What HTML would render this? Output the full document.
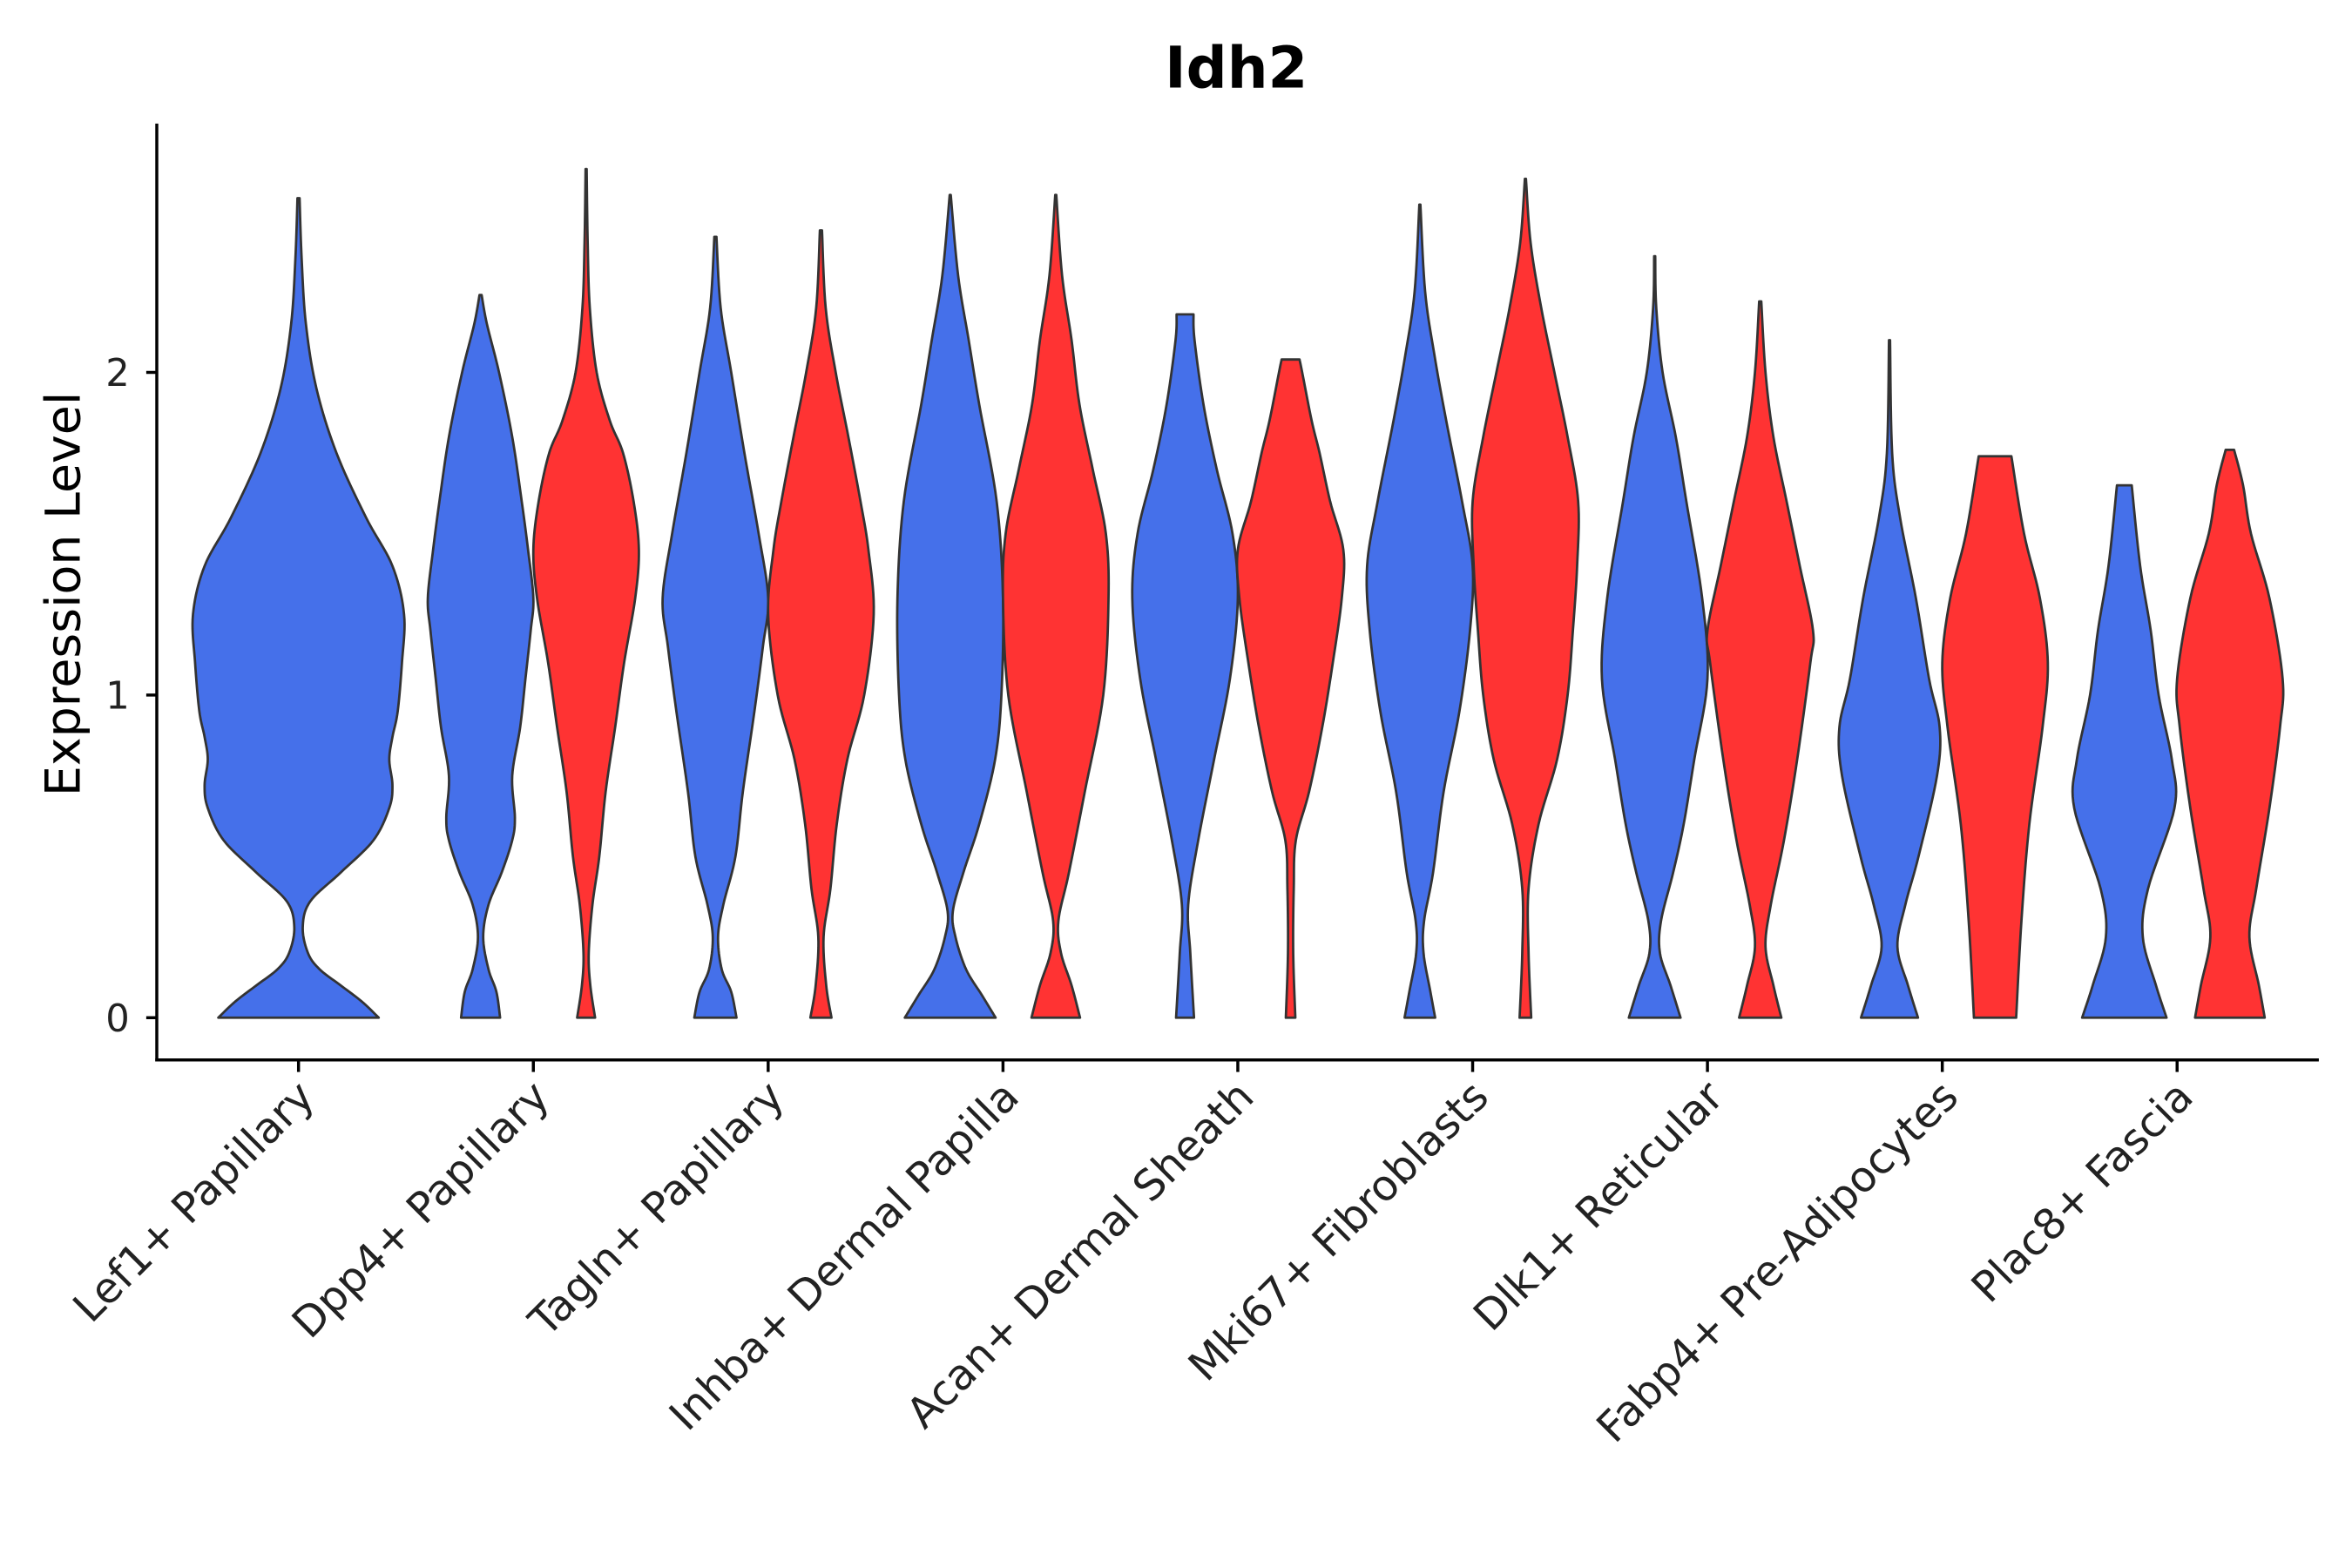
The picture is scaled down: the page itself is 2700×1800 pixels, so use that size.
<!DOCTYPE html>
<html><head><meta charset="utf-8"><style>
html,body{margin:0;padding:0;background:#fff;}
svg{display:block;font-family:"DejaVu Sans","Liberation Sans",sans-serif;}
</style></head><body>
<svg id="chart" width="2700" height="1800" viewBox="0 0 1560 1040" xmlns="http://www.w3.org/2000/svg">
<text x="820" y="58" font-size="38" font-weight="bold" text-anchor="middle">Idh2</text>
<text transform="translate(53,394) rotate(-90)" font-size="32" text-anchor="middle">Expression Level</text>
<g id="plot"></g>
</svg>
<script>
const categories = ["Lef1+ Papillary","Dpp4+ Papillary","Tagln+ Papillary","Inhba+ Dermal Papilla","Acan+ Dermal Sheath","Mki67+ Fibroblasts","Dlk1+ Reticular","Fabp4+ Pre-Adipocytes","Plac8+ Fascia"];
const yTicks = [0,1,2];
const yTickLabels = ["0","1","2"];
// each violin: category index, group (0 blue,1 red, -1 unsplit), knots [value, relative density]
const violinCats = [0,1,1,2,2,3,3,4,4,5,5,6,6,7,7,8,8];
const violinGroups = [-1,0,1,0,1,0,1,0,1,0,1,0,1,0,1,0,1];
const violinKnots = [
 [[0,.76],[.05,.6],[.1,.4],[.15,.2],[.2,.09],[.28,.04],[.36,.11],[.45,.4],[.55,.71],[.65,.86],[.72,.89],[.8,.86],[.87,.89],[.95,.94],[1.1,.98],[1.25,1],[1.4,.89],[1.55,.64],[1.75,.36],[1.95,.17],[2.15,.07],[2.35,.03],[2.54,.01]],
 [[0,.37],[.08,.3],[.15,.15],[.25,.05],[.35,.15],[.45,.4],[.55,.6],[.62,.65],[.75,.6],[.9,.75],[1.05,.85],[1.2,.95],[1.3,1],[1.45,.9],[1.6,.78],[1.8,.6],[2.0,.35],[2.15,.12],[2.24,.02]],
 [[0,.17],[.1,.08],[.2,.05],[.35,.12],[.5,.25],[.7,.37],[.9,.55],[1.1,.72],[1.3,.93],[1.45,1],[1.6,.9],[1.75,.7],[1.85,.45],[2.0,.2],[2.2,.07],[2.4,.03],[2.63,.01]],
 [[0,.4],[.08,.3],[.15,.12],[.25,.05],[.35,.15],[.5,.38],[.7,.52],[.95,.74],[1.15,.9],[1.3,1],[1.5,.82],[1.75,.55],[2.0,.3],[2.2,.1],[2.42,.02]],
 [[0,.2],[.1,.1],[.25,.05],[.4,.18],[.6,.3],[.8,.5],[1.0,.82],[1.25,1],[1.45,.9],[1.6,.75],[1.8,.52],[2.0,.28],[2.2,.09],[2.44,.02]],
 [[0,.86],[.07,.6],[.15,.3],[.25,.1],[.33,.05],[.45,.25],[.6,.55],[.8,.85],[1.0,.97],[1.3,1],[1.6,.88],[1.9,.55],[2.1,.35],[2.3,.15],[2.55,.01]],
 [[0,.46],[.1,.3],[.2,.1],[.3,.05],[.45,.25],[.7,.55],[1.0,.9],[1.3,1],[1.5,.95],[1.7,.7],[1.9,.45],[2.1,.3],[2.3,.12],[2.55,.01]],
 [[0,.17],[.2,.1],[.35,.06],[.55,.25],[.8,.55],[1.05,.85],[1.3,1],[1.5,.9],[1.7,.6],[1.9,.35],[2.1,.18],[2.18,.16]],
 [[0,.09],[.2,.05],[.4,.06],[.55,.1],[.7,.35],[.9,.6],[1.1,.8],[1.3,.97],[1.45,1],[1.6,.75],[1.75,.55],[1.85,.4],[2.0,.22],[2.04,.17]],
 [[0,.29],[.08,.2],[.2,.07],[.3,.08],[.45,.25],[.7,.45],[.95,.75],[1.2,.95],[1.4,1],[1.6,.8],[1.85,.5],[2.05,.28],[2.25,.1],[2.52,.01]],
 [[0,.11],[.2,.06],[.4,.06],[.6,.25],[.8,.6],[1.0,.8],[1.2,.9],[1.4,.98],[1.6,1],[1.8,.8],[2.0,.55],[2.2,.3],[2.4,.1],[2.6,.01]],
 [[0,.49],[.1,.3],[.2,.1],[.3,.12],[.45,.35],[.6,.55],[.8,.75],[1.05,1],[1.3,.9],[1.6,.6],[1.8,.4],[2.0,.15],[2.2,.03],[2.36,.01]],
 [[0,.4],[.1,.25],[.22,.1],[.35,.2],[.55,.45],[.8,.7],[1.1,.95],[1.2,1],[1.4,.75],[1.6,.5],[1.8,.25],[2.0,.1],[2.22,.02]],
 [[0,.54],[.1,.35],[.22,.15],[.35,.3],[.5,.55],[.75,.9],[.9,.95],[1.05,.75],[1.3,.5],[1.55,.2],[1.75,.05],[2.1,.01]],
 [[0,.4],[.3,.5],[.6,.65],[.9,.9],[1.1,1],[1.3,.85],[1.5,.55],[1.74,.31]],
 [[0,.8],[.1,.6],[.25,.35],[.4,.45],[.65,.95],[.8,.9],[1.0,.65],[1.2,.5],[1.4,.3],[1.65,.14]],
 [[0,.66],[.1,.55],[.25,.37],[.4,.5],[.65,.75],[.9,.95],[1.05,1],[1.3,.75],[1.5,.4],[1.65,.25],[1.76,.08]]
];
const groupColors = ["#4570ea","#ff3333","#4570ea"];

const NS="http://www.w3.org/2000/svg";
const plot=document.getElementById('plot');
const X0=104, X1=1538, Y0=82, YB=703;
function yScale(v){return 675-214*v;}
function xScale(i){return 198+155.75*i;}
function mk(tag,attrs){const e=document.createElementNS(NS,tag);for(const k in attrs)e.setAttribute(k,attrs[k]);return e;}

function sample(knots){
  const pts=[];
  for(let i=0;i<knots.length-1;i++){
    const p0=knots[Math.max(0,i-1)],p1=knots[i],p2=knots[i+1],p3=knots[Math.min(knots.length-1,i+2)];
    for(let s=0;s<10;s++){
      const t=s/10,t2=t*t,t3=t2*t;
      const f=(a,b,c,d)=>0.5*((2*b)+(-a+c)*t+(2*a-5*b+4*c-d)*t2+(-a+3*b-3*c+d)*t3);
      pts.push([f(p0[0],p1[0],p2[0],p3[0]),Math.max(0.005,f(p0[1],p1[1],p2[1],p3[1]))]);
    }
  }
  pts.push(knots[knots.length-1]);
  return pts;
}

violinKnots.forEach((knots,k)=>{
  const g=violinGroups[k];
  const cx = g<0 ? xScale(violinCats[k]) : xScale(violinCats[k]) + (g===0?-35:35);
  const maxHW = g<0 ? 70 : 35;
  const pts=sample(knots);
  const right=pts.map(p=>[cx+p[1]*maxHW,yScale(p[0])]);
  const left=pts.slice().reverse().map(p=>[cx-p[1]*maxHW,yScale(p[0])]);
  const all=right.concat(left);
  const d='M'+all.map(p=>p[0].toFixed(2)+','+p[1].toFixed(2)).join('L')+'Z';
  const path=mk('path',{d:d,fill:groupColors[g<0?2:g],stroke:'#333333','stroke-width':1.6,'stroke-linejoin':'round'});
  
  
  plot.appendChild(path);
});

const yAxis=mk('line',{x1:X0,y1:Y0,x2:X0,y2:YB+1,stroke:'#000','stroke-width':2});


plot.appendChild(yAxis);
const xAxis=mk('line',{x1:X0-1,y1:YB,x2:X1,y2:YB,stroke:'#000','stroke-width':2});


plot.appendChild(xAxis);

yTicks.forEach((v,i)=>{
  const y=yScale(v);
  const t=mk('line',{x1:X0-7,y1:y,x2:X0,y2:y,stroke:'#000','stroke-width':2});
  
  
  plot.appendChild(t);
  const l=mk('text',{x:X0-18,y:y+9,'font-size':25,'text-anchor':'end',fill:'#222'});
  l.textContent=yTickLabels[i];
  
  
  plot.appendChild(l);
});

categories.forEach((c,i)=>{
  const x=xScale(i);
  const t=mk('line',{x1:x,y1:YB,x2:x,y2:YB+8,stroke:'#000','stroke-width':2});
  
  
  plot.appendChild(t);
  const l=mk('text',{transform:'translate('+(x+12)+','+(YB+26)+') rotate(-45)','font-size':28,'text-anchor':'end',fill:'#222'});
  l.textContent=c;
  
  
  plot.appendChild(l);
});
</script>
</body></html>
